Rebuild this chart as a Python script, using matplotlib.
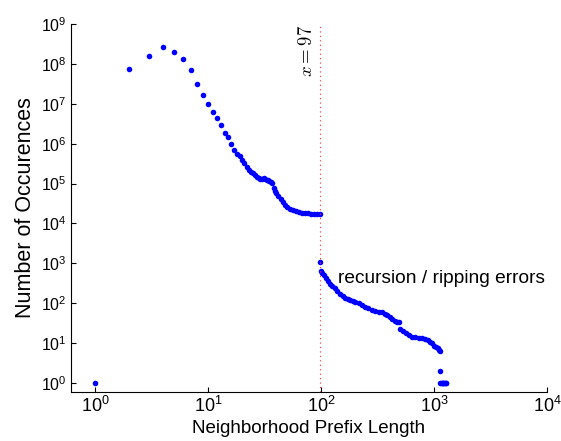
import matplotlib
matplotlib.use('Agg')
import matplotlib.pyplot as plt
import numpy as np

plt.rcParams['font.family'] = ['Liberation Sans', 'DejaVu Sans']

# prefix length -> number of occurences
prefix_len = [1, 2, 3, 4, 5, 6, 7, 8, 9, 10, 11, 12, 13, 14, 15, 16, 17, 18, 19, 20,
              21, 22, 23, 24, 25, 26, 27, 28, 29, 30, 31, 32, 33, 34, 35, 36, 37, 38, 39, 40,
              42, 44, 46, 48, 50, 53, 56, 60, 64, 68, 72, 77, 82, 87, 92, 97,
              98, 100, 103, 106, 110, 115, 120, 126, 132, 139, 147, 155, 163, 172, 181, 191,
              201, 215, 230, 246, 263, 282, 302, 323, 346, 365, 384, 405, 426, 450, 470, 488,
              505, 530, 560, 600, 640, 685, 730, 780, 830, 880, 920, 960, 1000, 1040, 1080,
              1110, 1130, 1125,
              1130, 1150, 1170, 1190, 1210, 1230, 1250, 1270, 1290]
occurences = [1, 7.4e7, 1.55e8, 2.7e8, 2.0e8, 1.3e8, 6.9e7, 3.2e7, 1.7e7, 1.0e7, 6.2e6, 4.3e6,
              3.0e6, 1.9e6, 1.45e6, 9.8e5, 6.9e5, 5.5e5, 4.8e5, 3.9e5,
              3.2e5, 2.6e5, 2.2e5, 2.0e5, 1.8e5, 1.66e5, 1.45e5, 1.35e5, 1.29e5, 1.29e5,
              1.35e5, 1.29e5, 1.23e5, 1.2e5, 1.15e5, 1.1e5, 1.02e5, 7.6e4, 6.6e4, 5.9e4,
              5.0e4, 4.2e4, 3.4e4, 2.95e4, 2.6e4, 2.35e4, 2.15e4, 2.0e4, 1.9e4, 1.85e4,
              1.8e4, 1.78e4, 1.76e4, 1.74e4, 1.72e4, 1.68e4,
              1.1e3, 630, 560, 500, 440, 365, 310, 270, 235, 200, 174, 155, 138, 126, 120, 115,
              110, 100, 89, 81, 74, 68, 63, 60, 59, 55, 50, 45, 40, 36, 34, 33,
              22, 20, 18, 16, 14.5, 14, 13.8, 13.2, 12.6, 11.7, 11, 10, 8.5, 8, 7.4,
              6.8, 6.4, 2,
              1, 1, 1, 1, 1, 1, 1, 1, 1]

cutoff = 97
note = 'recursion / ripping errors'

fig = plt.figure(figsize=(5.61, 4.41), dpi=100)
ax = fig.add_axes([0.1266, 0.111, 0.8484, 0.8346])

ax.plot(prefix_len, occurences, 'o', color='blue', markersize=4, markeredgewidth=0, linestyle='none')
ax.axvline(cutoff, color='#ff3030', linestyle=(0, (1, 3)), linewidth=0.8)

ax.set_xscale('log')
ax.set_yscale('log')
ax.set_xlim(0.613, 1e4)
ax.set_ylim(0.595, 1e9)
ax.set_xticks([1, 10, 100, 1000, 10000])
ax.set_yticks([10.0 ** k for k in range(10)])
ax.minorticks_off()

ax.tick_params(direction='in', length=3.5, width=0.8, pad=3, top=False, right=False)
ax.tick_params(axis='x', labelsize=13)
ax.tick_params(axis='y', labelsize=11.5)
ax.spines[['right', 'top']].set_visible(False)
for s in ['left', 'bottom']:
    ax.spines[s].set_linewidth(0.8)

ax.set_xlabel('Neighborhood Prefix Length', fontsize=13.5, labelpad=3)
ax.set_ylabel('Number of Occurences', fontsize=15.5, labelpad=4)

ax.text(cutoff * 0.93, 9.5e8, r'$x = 97$', rotation=90, ha='right', va='top',
        fontsize=13.5, math_fontfamily='cm')
ax.text(140, 420, note, ha='left', va='center', fontsize=13.8)

fig.savefig('out.png', dpi=100)
